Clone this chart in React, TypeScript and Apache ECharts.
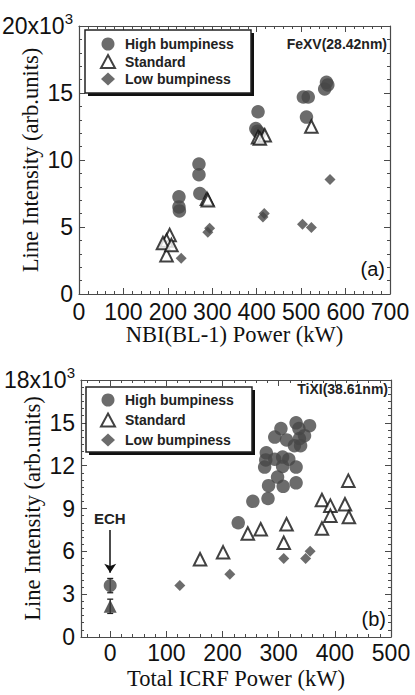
import React, { useEffect, useRef } from 'react';
import * as echarts from 'echarts';

// ---------- data: panel (a) FeXV 28.42nm, x = NBI(BL-1) power (kW), y = intensity (x10^3)
const feHigh = [
  [225, 7.25], [225, 6.5], [226, 6.2], [270, 9.7], [270, 8.9], [272, 7.5],
  [403, 13.6], [398, 12.35], [402, 12.15], [406, 12.0],
  [505, 14.7], [516, 14.7], [512, 13.2], [557, 15.8], [553, 15.3], [560, 15.6],
];
const feStd = [
  [197, 2.9], [204, 4.4], [197, 4.0], [189, 3.8], [208, 3.65],
  [288, 7.1], [290, 7.0], [403, 11.7], [418, 11.85], [407, 11.6], [523, 12.5],
];
const feLow = [
  [230, 2.66], [290, 4.6], [294, 4.9], [414, 5.75], [417, 6.0], [503, 5.2], [523, 4.97], [565, 8.55],
];

// ---------- data: panel (b) TiXI 38.61nm, x = total ICRF power (kW)
const tiHigh = [
  [331, 15.0], [304, 14.6], [355, 14.8], [336, 14.6], [293, 14.0], [314, 13.8], [337, 13.9],
  [328, 13.4], [339, 13.4], [346, 14.1], [278, 12.9], [277, 12.4], [293, 12.45], [307, 12.6],
  [318, 12.45], [275, 11.9], [307, 11.95], [331, 11.9], [298, 11.2], [282, 10.6], [308, 10.55],
  [331, 10.8], [281, 9.7], [254, 9.5], [228, 8.0],
];
const tiStd = [
  [424, 10.95], [377, 9.6], [392, 9.2], [418, 9.3], [392, 8.5], [425, 8.4], [377, 7.6],
  [314, 7.9], [309, 6.6], [268, 7.55], [245, 7.25], [160, 5.45], [201, 5.93],
];
const tiLow = [[124, 3.6], [213, 4.4], [309, 5.5], [348, 5.5], [356, 6.0]];
// ECH only: [power, value, error]
const echHigh = [[0, 3.6, 0.5]];
const echStd = [[0, 2.15, 0.5]];

const seriesNames = ['High bumpiness', 'Standard', 'Low bumpiness'];

// ---------- tick values
const steps = (a: number, b: number, s: number) => {
  const out: number[] = [];
  for (let v = a; v <= b + 1e-9; v += s) out.push(Math.round(v * 1000) / 1000);
  return out;
};
const feXMajor = steps(0, 700, 100);
const feXMinor = steps(0, 700, 20);
const feYMajor = steps(0, 20, 5);
const feYMinor = steps(0, 20, 1);
const tiXMajor = steps(0, 500, 100);
const tiXMinor = steps(-40, 500, 20);
const tiYMajor = steps(0, 18, 3);
const tiYMinor = steps(0, 18, 0.5);

const AX = '#4a4a4a';
const MARK = '#474747';
const SANS = 'Liberation Sans, Arial, sans-serif';
const NARROW = 'Liberation Sans Narrow, Arial Narrow, Liberation Sans, sans-serif';
const SERIF = 'Liberation Serif, Times New Roman, serif';

function mkAxes(
  kind: 'x' | 'y', gridIndex: number, min: number, max: number,
  majors: number[], minors: number[], fmt: (v: number) => string,
  margin: number, name: string, nameGap: number,
) {
  const primary = kind === 'x' ? 'bottom' : 'left';
  const opposite = kind === 'x' ? 'top' : 'right';
  const base: any = { type: 'value', gridIndex, min, max, splitLine: { show: false }, offset: 0 };
  const line = { show: true, onZero: false, lineStyle: { color: AX, width: 1.2 } };
  const noLine = { show: false, onZero: false };
  const major = { show: true, inside: true, length: 6, customValues: majors, lineStyle: { color: AX, width: 1 } };
  const minor = { show: true, inside: true, length: 3, customValues: minors, lineStyle: { color: AX, width: 1 } };
  return [
    {
      ...base, position: primary, axisLine: line, axisTick: major,
      axisLabel: {
        show: true, customValues: majors, formatter: fmt, margin, color: '#111',
        fontFamily: NARROW, fontSize: 23,
        rich: {
          m: { fontFamily: NARROW, fontSize: 23, color: '#111' },
          s: { fontFamily: NARROW, fontSize: 15, color: '#111', padding: [0, 0, 15, 0] },
        },
      },
      name, nameLocation: 'middle', nameGap, nameMoveOverlap: false,
      nameTextStyle: { fontFamily: SERIF, fontSize: 22.5, color: '#111' },
    },
    { ...base, position: primary, axisLine: noLine, axisTick: minor, axisLabel: { show: false } },
    { ...base, position: opposite, axisLine: line, axisTick: major, axisLabel: { show: false } },
    { ...base, position: opposite, axisLine: noLine, axisTick: minor, axisLabel: { show: false } },
  ];
}

const styles = [
  { symbol: 'circle', symbolSize: 13.5, itemStyle: { color: MARK } },
  { symbol: 'triangle', symbolSize: 12.5, itemStyle: { color: '#ffffff', borderColor: '#111', borderWidth: 2 } },
  { symbol: 'diamond', symbolSize: 11, itemStyle: { color: MARK } },
];

function scatter(name: string, idx: number, data: number[][], axisBase: number) {
  return {
    type: 'scatter', name, data, xAxisIndex: axisBase, yAxisIndex: axisBase,
    ...styles[idx], z: idx === 1 ? 3 : 2,
  };
}

function errorBars(data: number[][], axisBase: number) {
  return {
    type: 'custom', xAxisIndex: axisBase, yAxisIndex: axisBase, data, silent: true, z: 1,
    renderItem: (_p: any, api: any) => {
      const x = api.value(0), y = api.value(1), e = api.value(2);
      const t = api.coord([x, y + e]);
      const b = api.coord([x, y - e]);
      const st = { stroke: '#222', lineWidth: 1.3 };
      return {
        type: 'group',
        children: [
          { type: 'line', shape: { x1: t[0], y1: t[1], x2: b[0], y2: b[1] }, style: st },
          { type: 'line', shape: { x1: t[0] - 3, y1: t[1], x2: t[0] + 3, y2: t[1] }, style: st },
          { type: 'line', shape: { x1: b[0] - 3, y1: b[1], x2: b[0] + 3, y2: b[1] }, style: st },
        ],
      };
    },
  };
}

const topFmt = (v: number) => (v === 20 ? '{m|20x10}{s|3}' : String(v));
const botFmt = (v: number) => (v === 18 ? '{m|18x10}{s|3}' : String(v));
const plainFmt = (v: number) => String(v);

const legendBox = (x: number, y: number, w: number, h: number) => [
  { type: 'rect', z: 0, shape: { x: x + 3, y: y + 3, width: w, height: h }, style: { fill: '#111' } },
  { type: 'rect', z: 1, shape: { x, y, width: w, height: h }, style: { fill: '#fff', stroke: '#222', lineWidth: 1.5 } },
];

const option: any = {
  animation: false,
  backgroundColor: '#ffffff',
  grid: [
    { left: 79, right: 25, top: 26, height: 268, outerBoundsMode: 'none', containLabel: false },
    { left: 81, right: 24, top: 380, height: 257, outerBoundsMode: 'none', containLabel: false },
  ],
  xAxis: [
    ...mkAxes('x', 0, 0, 700, feXMajor, feXMinor, plainFmt, 6, 'NBI(BL-1) Power (kW)', 29),
    ...mkAxes('x', 1, -52, 500, tiXMajor, tiXMinor, plainFmt, 4, 'Total ICRF Power (kW)', 30),
  ],
  yAxis: [
    ...mkAxes('y', 0, 0, 20, feYMajor, feYMinor, topFmt, 6, 'Line Intensity (arb.units)', 37),
    ...mkAxes('y', 1, 0, 18, tiYMajor, tiYMinor, botFmt, 6, 'Line Intensity (arb.units)', 37),
  ],
  legend: [0, 1].map((i) => ({
    data: seriesNames,
    orient: 'vertical',
    left: 95,
    top: i === 0 ? 31.5 : 387.5,
    padding: 5,
    itemWidth: 14, itemHeight: 13, itemGap: i === 0 ? 2.5 : 5,
    selectedMode: false,
    textStyle: { fontFamily: SANS, fontWeight: 'bold', fontSize: 14, lineHeight: 15, color: '#222', padding: [0, 0, 0, 5] },
    z: 5,
  })),
  graphic: [
    ...legendBox(85, 30, 166, 63),
    ...legendBox(86, 387, 166, 65),
    { type: 'text', right: 28, top: 37, z: 5, style: { text: 'FeXV(28.42nm)', font: `bold 14px ${SANS}`, fill: '#222' } },
    { type: 'text', right: 30, top: 259, z: 5, style: { text: '(a)', font: `20px ${SANS}`, fill: '#111' } },
    { type: 'text', right: 27, top: 382, z: 5, style: { text: 'TiXI(38.61nm)', font: `bold 14px ${SANS}`, fill: '#222' } },
    { type: 'text', right: 29, top: 609, z: 5, style: { text: '(b)', font: `20px ${SANS}`, fill: '#111' } },
    { type: 'text', left: 94, top: 511, z: 5, style: { text: 'ECH', font: `bold 15px ${SANS}`, fill: '#222' } },
  ],
  series: [
    scatter(seriesNames[0], 0, feHigh, 0),
    scatter(seriesNames[1], 1, feStd, 0),
    scatter(seriesNames[2], 2, feLow, 0),
    scatter(seriesNames[0], 0, tiHigh, 4),
    scatter(seriesNames[1], 1, tiStd, 4),
    scatter(seriesNames[2], 2, tiLow, 4),
    errorBars(echHigh, 4),
    errorBars(echStd, 4),
    {
      type: 'scatter', name: 'ECH high', data: echHigh.map((d) => [d[0], d[1]]), xAxisIndex: 4, yAxisIndex: 4,
      symbol: 'circle', symbolSize: 13, itemStyle: { color: MARK }, z: 3,
      markLine: {
        silent: true, symbol: ['none', 'arrow'], symbolSize: 9, label: { show: false },
        lineStyle: { color: '#111', width: 1.5, type: 'solid' },
        emphasis: { disabled: true },
        data: [[{ coord: [0, 7.5] }, { coord: [0, 4.5] }]],
      },
    },
    {
      type: 'scatter', name: 'ECH standard', data: echStd.map((d) => [d[0], d[1]]), xAxisIndex: 4, yAxisIndex: 4,
      symbol: 'triangle', symbolSize: 13, itemStyle: { color: '#333' }, z: 3,
    },
  ],
};

export default function App() {
  const ref = useRef<HTMLDivElement>(null);
  useEffect(() => {
    const chart = echarts.init(ref.current!, null, { renderer: 'svg' });
    chart.setOption(option);
    return () => chart.dispose();
  }, []);
  return <div ref={ref} style={{ position: 'absolute', left: 0, top: 0, width: 415, height: 695 }} />;
}
